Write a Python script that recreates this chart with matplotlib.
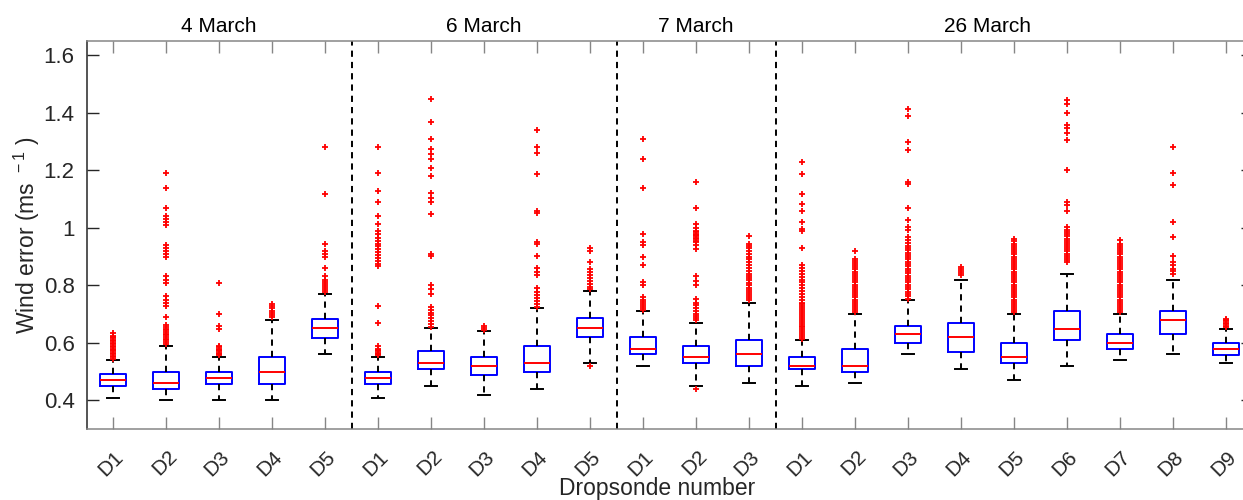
import matplotlib
matplotlib.use("Agg")
import matplotlib.pyplot as plt
import matplotlib.transforms as mtransforms

plt.rcParams['font.family'] = ['Liberation Sans', 'DejaVu Sans']
plt.rcParams['mathtext.fontset'] = 'custom'
plt.rcParams['mathtext.rm'] = 'Liberation Sans'
plt.rcParams['mathtext.it'] = 'Liberation Sans'

# ---------------- data ----------------
xticklabels = ['D1', 'D2', 'D3', 'D4', 'D5',
               'D1', 'D2', 'D3', 'D4', 'D5',
               'D1', 'D2', 'D3',
               'D1', 'D2', 'D3', 'D4', 'D5', 'D6', 'D7', 'D8', 'D9']
groups = ['4 March', '6 March', '7 March', '26 March']
group_label_pos = [3.0, 8.0, 12.0, 17.5]
separators = [5.5, 10.5, 13.5]

med = [0.470, 0.460, 0.479, 0.500, 0.650,
       0.479, 0.530, 0.519, 0.530, 0.650,
       0.580, 0.551, 0.560,
       0.519, 0.519, 0.630, 0.620, 0.551, 0.649, 0.599, 0.679, 0.580]
q1 = [0.449, 0.439, 0.458, 0.458, 0.618,
      0.458, 0.508, 0.489, 0.499, 0.620,
      0.560, 0.530, 0.519,
      0.509, 0.499, 0.599, 0.568, 0.530, 0.609, 0.580, 0.630, 0.559]
q3 = [0.490, 0.500, 0.500, 0.551, 0.681,
      0.500, 0.570, 0.551, 0.590, 0.685,
      0.620, 0.590, 0.610,
      0.551, 0.580, 0.660, 0.669, 0.599, 0.710, 0.630, 0.710, 0.599]
whislo = [0.409, 0.400, 0.400, 0.400, 0.560,
          0.409, 0.449, 0.420, 0.439, 0.530,
          0.519, 0.450, 0.460,
          0.450, 0.460, 0.560, 0.509, 0.470, 0.519, 0.539, 0.560, 0.530]
whishi = [0.539, 0.590, 0.551, 0.679, 0.769,
          0.551, 0.650, 0.640, 0.721, 0.780,
          0.710, 0.670, 0.740,
          0.610, 0.700, 0.750, 0.820, 0.700, 0.839, 0.700, 0.820, 0.649]

outliers = [
    # 4 March
    [0.545, 0.55, 0.555, 0.56, 0.565, 0.57, 0.575, 0.58, 0.585, 0.59, 0.595,
     0.60, 0.605, 0.61, 0.615, 0.62, 0.625, 0.633],
    [0.597, 0.603, 0.608, 0.614, 0.62, 0.626, 0.632, 0.638, 0.644, 0.649,
     0.655, 0.661, 0.69, 0.728, 0.74, 0.75, 0.762, 0.809, 0.82, 0.832, 0.899,
     0.91, 0.919, 0.931, 0.941, 1.011, 1.02, 1.03, 1.041, 1.07, 1.14, 1.191],
    [0.556, 0.56, 0.565, 0.57, 0.575, 0.58, 0.585, 0.59, 0.648, 0.660, 0.699,
     0.809],
    [0.690, 0.697, 0.705, 0.712, 0.72, 0.728, 0.736],
    [0.777, 0.784, 0.79, 0.797, 0.805, 0.812, 0.82, 0.831, 0.859, 0.899, 0.91,
     0.920, 0.943, 1.119, 1.280],
    # 6 March
    [0.556, 0.56, 0.565, 0.57, 0.575, 0.58, 0.588, 0.669, 0.729, 0.866, 0.875,
     0.885, 0.895, 0.905, 0.915, 0.925, 0.935, 0.945, 0.955, 0.965, 0.98,
     0.99, 1.012, 1.04, 1.089, 1.129, 1.19, 1.28],
    [0.655, 0.665, 0.675, 0.685, 0.695, 0.705, 0.715, 0.725, 0.769, 0.788,
     0.802, 0.901, 0.910, 1.049, 1.091, 1.105, 1.121, 1.18, 1.209, 1.239,
     1.258, 1.273, 1.309, 1.369, 1.449],
    [0.645, 0.652, 0.66],
    [0.725, 0.735, 0.745, 0.755, 0.765, 0.777, 0.791, 0.835, 0.846, 0.860,
     0.901, 0.943, 0.952, 1.052, 1.059, 1.188, 1.260, 1.281, 1.339],
    [0.519, 0.788, 0.795, 0.805, 0.815, 0.825, 0.835, 0.845, 0.858, 0.881,
     0.919, 0.931],
    # 7 March
    [0.713, 0.72, 0.728, 0.735, 0.742, 0.75, 0.759, 0.800, 0.812, 0.870,
     0.900, 0.939, 0.951, 0.980, 1.139, 1.239, 1.309],
    [0.438, 0.678, 0.685, 0.692, 0.70, 0.71, 0.72, 0.73, 0.74, 0.754, 0.802,
     0.815, 0.832, 0.928, 0.94, 0.95, 0.955, 0.96, 0.965, 0.97, 0.975, 0.98,
     0.985, 0.99, 1.0, 1.015, 1.069, 1.159],
    [0.748, 0.755, 0.762, 0.77, 0.777, 0.785, 0.792, 0.80, 0.808, 0.817,
     0.825, 0.833, 0.841, 0.85, 0.86, 0.87, 0.88, 0.89, 0.90, 0.91, 0.92,
     0.93, 0.938, 0.945, 0.970],
    # 26 March
    [0.614, 0.62, 0.627, 0.634, 0.64, 0.647, 0.654, 0.66, 0.667, 0.674, 0.68,
     0.687, 0.694, 0.70, 0.707, 0.714, 0.72, 0.727, 0.734, 0.74, 0.75, 0.76,
     0.77, 0.78, 0.79, 0.80, 0.81, 0.82, 0.83, 0.84, 0.85, 0.86, 0.87, 0.929,
     0.989, 0.997, 1.020, 1.059, 1.082, 1.119, 1.188, 1.229],
    [0.707, 0.714, 0.72, 0.728, 0.735, 0.742, 0.75, 0.758, 0.765, 0.772,
     0.78, 0.788, 0.795, 0.802, 0.81, 0.818, 0.825, 0.832, 0.84, 0.848,
     0.855, 0.862, 0.87, 0.878, 0.885, 0.893, 0.919],
    [0.754, 0.762, 0.77, 0.778, 0.786, 0.794, 0.802, 0.81, 0.818, 0.826,
     0.834, 0.842, 0.85, 0.858, 0.866, 0.874, 0.882, 0.89, 0.898, 0.906,
     0.914, 0.922, 0.93, 0.938, 0.946, 0.957, 0.968, 0.991, 1.003, 1.026,
     1.069, 1.151, 1.159, 1.270, 1.299, 1.388, 1.414],
    [0.835, 0.842, 0.85, 0.857, 0.864],
    [0.707, 0.714, 0.72, 0.728, 0.735, 0.742, 0.75, 0.758, 0.765, 0.772,
     0.78, 0.788, 0.795, 0.802, 0.81, 0.818, 0.825, 0.832, 0.84, 0.848,
     0.855, 0.862, 0.87, 0.878, 0.885, 0.893, 0.90, 0.908, 0.915, 0.922,
     0.93, 0.938, 0.945, 0.953, 0.962],
    [0.881, 0.888, 0.895, 0.902, 0.91, 0.918, 0.925, 0.932, 0.94, 0.948,
     0.955, 0.962, 0.97, 0.978, 0.985, 0.993, 1.003, 1.059, 1.078, 1.09,
     1.2, 1.307, 1.329, 1.348, 1.359, 1.399, 1.43, 1.443],
    [0.707, 0.714, 0.72, 0.728, 0.735, 0.742, 0.75, 0.758, 0.765, 0.772,
     0.78, 0.788, 0.795, 0.802, 0.81, 0.818, 0.825, 0.832, 0.84, 0.848,
     0.855, 0.862, 0.87, 0.878, 0.885, 0.893, 0.90, 0.908, 0.915, 0.922,
     0.93, 0.938, 0.945, 0.957],
    [0.841, 0.85, 0.858, 0.869, 0.880, 0.901, 0.969, 1.019, 1.149, 1.190,
     1.280],
    [0.655, 0.66, 0.665, 0.67, 0.675, 0.68, 0.684],
]

# ---------------- figure ----------------
W, H = 1243, 500
fig = plt.figure(figsize=(W / 100, H / 100), dpi=100)
ax_left, ax_right, ax_top, ax_bottom = 86.5, 1252.5, 41, 429
ax = fig.add_axes([ax_left / W, 1 - ax_bottom / H,
                   (ax_right - ax_left) / W, (ax_bottom - ax_top) / H])

stats = []
for i in range(len(med)):
    stats.append(dict(med=med[i], q1=q1[i], q3=q3[i],
                      whislo=whislo[i], whishi=whishi[i],
                      fliers=outliers[i], label=xticklabels[i]))

positions = list(range(1, len(med) + 1))
ax.bxp(stats, positions=positions, widths=0.5, capwidths=0.23,
       showfliers=True,
       boxprops=dict(color='#0000ff', linewidth=1.4),
       medianprops=dict(color='#ff0000', linewidth=1.4),
       whiskerprops=dict(color='black', linewidth=1.4,
                         linestyle=(0, (3.2, 2.6))),
       capprops=dict(color='black', linewidth=1.4),
       flierprops=dict(marker='+', markeredgecolor='#ff0000',
                       markersize=5, markeredgewidth=1.3,
                       linestyle='none'))

for s in separators:
    ax.axvline(s, color='black', linewidth=1.4, linestyle=(0, (3.2, 2.6)))

ax.set_xlim(0.5, len(med) + 0.5)
ax.set_ylim(0.3, 1.65)

yt = [0.4, 0.6, 0.8, 1.0, 1.2, 1.4, 1.6]
ax.set_yticks(yt)
ax.set_yticklabels(['%g' % v for v in yt])
ax.set_xticks(positions)
ax.set_xticklabels(xticklabels, rotation=45, ha='right', va='top',
                   rotation_mode='anchor')

dark = '#262626'
gray = '#868686'
ax.tick_params(axis='y', which='both', direction='in', length=8.6,
               width=1.0, color=dark, left=True, right=True,
               labelsize=16, labelcolor=dark, pad=8.5)
ax.tick_params(axis='x', which='both', direction='in', length=8.6,
               width=1.0, color=gray, top=True, bottom=True,
               labelsize=15, labelcolor=dark, pad=13)
for lab in ax.get_xticklabels():
    lab.set_transform(lab.get_transform() +
                      mtransforms.ScaledTranslation(1 / 100, 0, fig.dpi_scale_trans))
ax.spines['left'].set_color(dark)
ax.spines['right'].set_color(dark)
ax.spines['top'].set_color(gray)
ax.spines['bottom'].set_color(gray)
for sp in ax.spines.values():
    sp.set_linewidth(1.1)

# group labels
trans = mtransforms.blended_transform_factory(ax.transData, fig.transFigure)
for g, p in zip(groups, group_label_pos):
    ax.text(p, 1 - 31.7 / H, g, transform=trans, ha='center', va='baseline',
            fontsize=15, color='black', clip_on=False)

fig.text(656.7 / W, 1 - 495 / H, 'Dropsonde number', ha='center',
         va='baseline', fontsize=16.5, color=dark)
fig.text(27 / W, 1 - 235 / H, r'Wind error (ms$^{\;\;-1}$ )', rotation=90,
         ha='center', va='center', fontsize=16.5, color=dark)

fig.savefig('out.png', dpi=100)
